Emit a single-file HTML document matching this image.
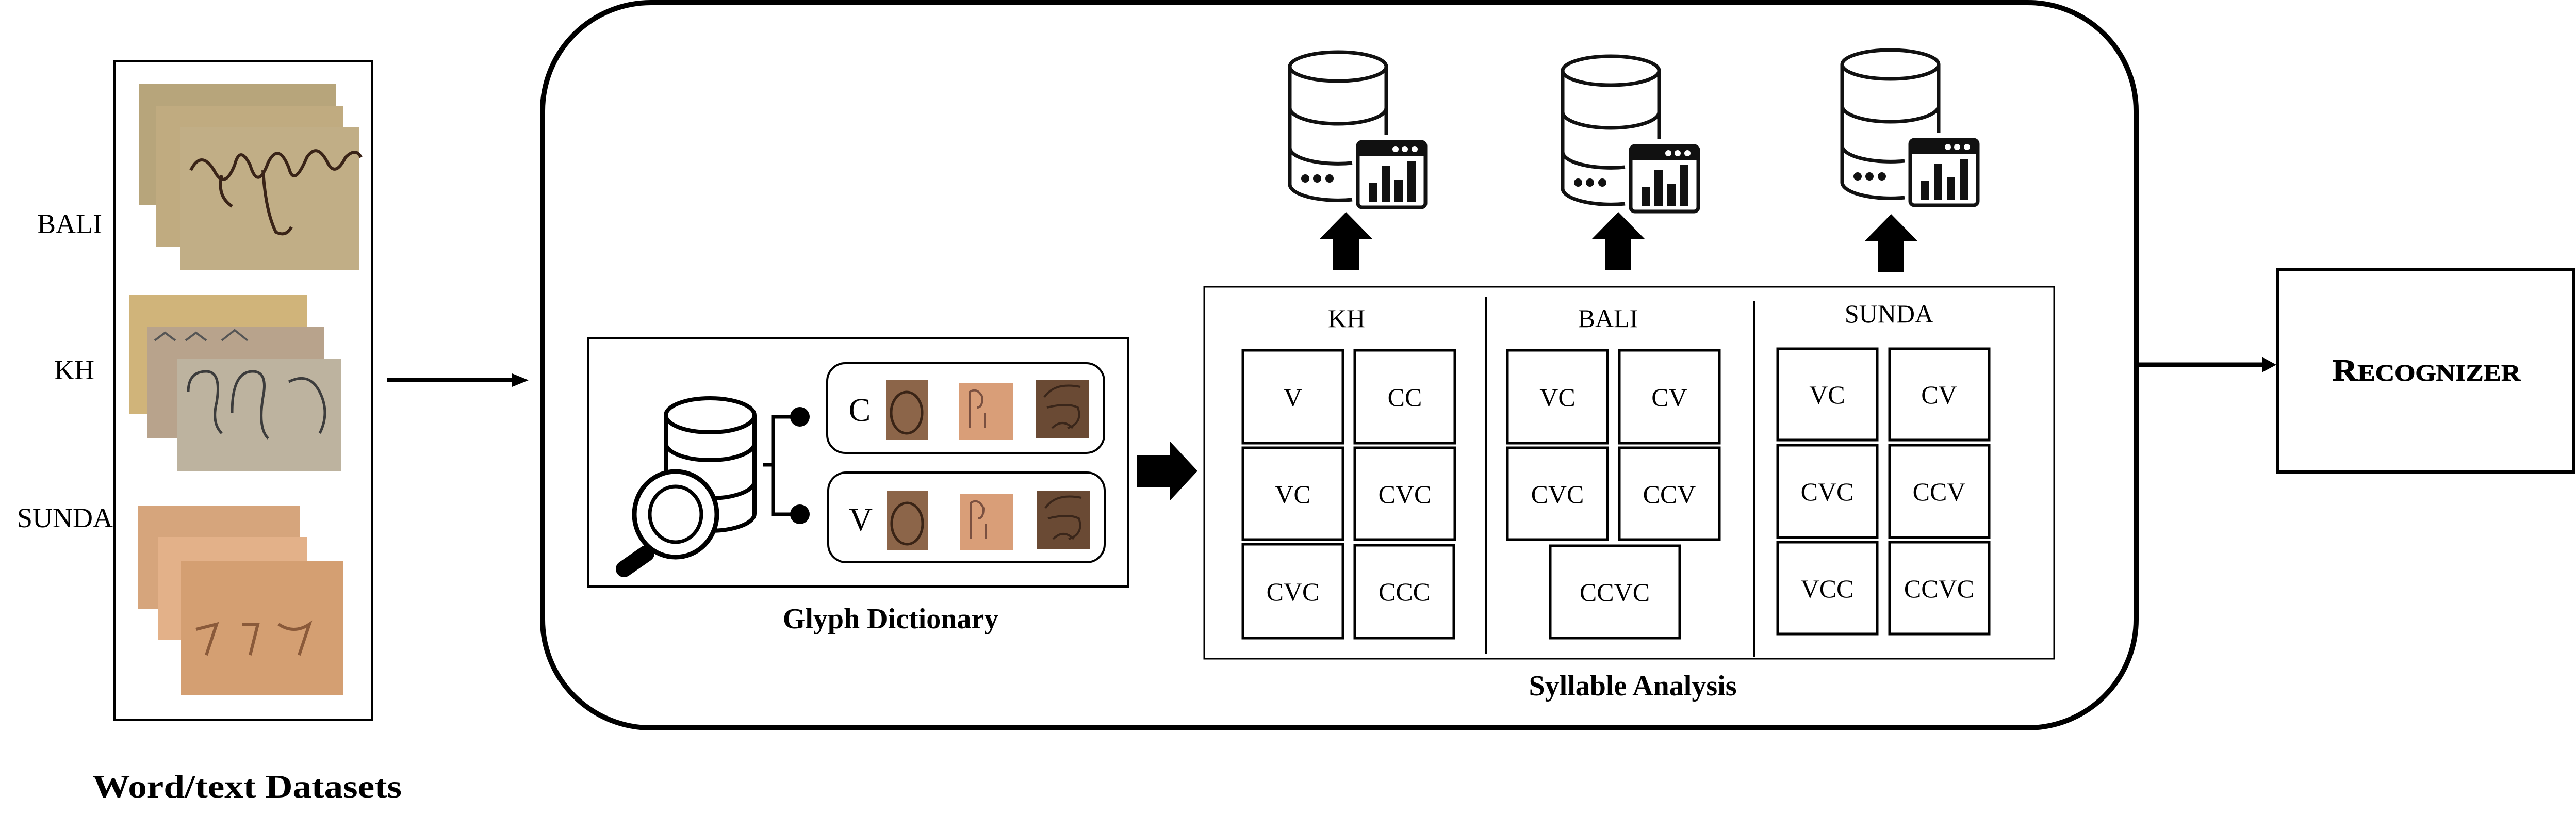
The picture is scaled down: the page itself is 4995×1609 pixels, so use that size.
<!DOCTYPE html>
<html><head><meta charset="utf-8"><style>
html,body{margin:0;padding:0;background:#fff;}
svg{display:block;}
text{font-family:"Liberation Serif",serif;}
</style></head><body>
<svg width="4995" height="1609" viewBox="0 0 4995 1609" xmlns="http://www.w3.org/2000/svg">
<defs>
<symbol id="db" overflow="visible">
  <g fill="none" stroke="#111" stroke-width="7">
    <path d="M3,31 V259 A93.5,31 0 0 0 124,289"/>
    <path d="M190,31 V164"/>
    <ellipse cx="96.5" cy="31" rx="93.5" ry="28"/>
    <path d="M3,111 A93.5,31 0 0 0 190,111"/>
    <path d="M3,188 A93.5,31 0 0 0 124,218"/>
    <rect x="135" y="177" width="131" height="127" rx="8"/>
  </g>
  <rect x="135" y="177" width="131" height="27" fill="#111"/>
  <circle cx="208" cy="191" r="6" fill="#fff"/><circle cx="226" cy="191" r="6" fill="#fff"/><circle cx="245" cy="191" r="6" fill="#fff"/>
  <circle cx="33" cy="248" r="8" fill="#111"/><circle cx="56" cy="248" r="8" fill="#111"/><circle cx="80" cy="248" r="8" fill="#111"/>
  <rect x="156" y="256" width="16" height="38" fill="#111"/>
  <rect x="181" y="224" width="16" height="70" fill="#111"/>
  <rect x="206" y="250" width="16" height="44" fill="#111"/>
  <rect x="231" y="214" width="16" height="80" fill="#111"/>
</symbol>
<symbol id="up" overflow="visible">
  <polygon points="0,0 52,53 25,53 25,113 -25,113 -25,53 -52,53" fill="#000"/>
</symbol>
</defs>

<!-- Left dataset box -->
<rect x="222" y="119" width="500" height="1276" fill="none" stroke="#000" stroke-width="4"/>
<!-- Bali -->
<rect x="270" y="162" width="381" height="235" fill="#b7a57b"/>
<rect x="302" y="205" width="363" height="273" fill="#c0ab80"/>
<rect x="349" y="246" width="348" height="278" fill="#c1ae86"/>
<path d="M370,330 q20,-40 45,0 q20,40 40,-10 q10,-40 30,0 q15,50 35,-5 q20,-40 40,10 q10,40 35,-20 q20,-30 40,10 q15,30 35,-10 q20,-20 30,0 M430,340 q-10,40 20,60 M510,330 q5,80 25,120 q20,10 30,-10" fill="none" stroke="#3a2418" stroke-width="6"/>
<!-- KH -->
<rect x="251" y="571" width="345" height="232" fill="#d0b47a"/>
<rect x="285" y="634" width="344" height="216" fill="#b8a38c"/>
<rect x="343" y="695" width="319" height="218" fill="#bdb39f"/>
<path d="M365,760 q0,-40 35,-40 q30,0 20,60 q-10,40 10,60 M450,800 q0,-80 40,-80 q30,0 20,50 q-10,60 10,80 M560,740 q40,-20 60,20 q20,40 0,80" fill="none" stroke="#3c3c3c" stroke-width="5"/>
<path d="M300,660 l20,-15 l20,15 M360,660 l20,-15 l20,15 M430,660 l25,-20 l25,20" fill="none" stroke="#555" stroke-width="4"/>
<!-- Sunda -->
<rect x="268" y="981" width="314" height="199" fill="#d6a57c"/>
<rect x="307" y="1041" width="288" height="199" fill="#e3b189"/>
<rect x="350" y="1087" width="315" height="261" fill="#d49f72"/>
<path d="M380,1220 l40,-10 l-20,60 M470,1210 l30,0 l-15,60 M540,1210 q30,20 60,0 l-20,60" fill="none" stroke="#8a5a3a" stroke-width="6"/>

<text x="135" y="452" font-size="54" text-anchor="middle">BALI</text>
<text x="144" y="735" font-size="54" text-anchor="middle">KH</text>
<text x="126" y="1022" font-size="54" text-anchor="middle">SUNDA</text>
<text x="479" y="1546" font-size="64" font-weight="bold" text-anchor="middle" textLength="600" lengthAdjust="spacingAndGlyphs">Word/text Datasets</text>

<!-- arrow to main -->
<line x1="750" y1="737" x2="995" y2="737" stroke="#000" stroke-width="8"/>
<polygon points="1025,737 993,724 993,750" fill="#000"/>

<!-- big rounded box -->
<rect x="1052" y="5" width="3090" height="1406" rx="210" ry="210" fill="none" stroke="#000" stroke-width="10"/>

<!-- Glyph dictionary -->
<rect x="1140" y="655" width="1048" height="482" fill="none" stroke="#000" stroke-width="4"/>
<g fill="#fff" stroke="#000" stroke-width="8">
  <path d="M1291,805 V996 A86,33 0 0 0 1463,996 V805" />
  <ellipse cx="1377" cy="805" rx="86" ry="33"/>
  <path d="M1291,859 A86,33 0 0 0 1463,859" fill="none"/>
  <path d="M1291,933 A86,33 0 0 0 1463,933" fill="none"/>
</g>
<line x1="1253" y1="1073" x2="1210" y2="1103" stroke="#000" stroke-width="32" stroke-linecap="round"/>
<ellipse cx="1310" cy="997" rx="80" ry="83" fill="#fff" stroke="#000" stroke-width="9"/>
<ellipse cx="1310" cy="997" rx="50" ry="54" fill="#fff" stroke="#000" stroke-width="7"/>
<path d="M1551,808 H1499 V997 H1551 M1479,901 H1499" fill="none" stroke="#000" stroke-width="7"/>
<circle cx="1551" cy="808" r="19" fill="#000"/>
<circle cx="1551" cy="997" r="19" fill="#000"/>

<rect x="1604" y="704" width="537" height="174" rx="35" fill="none" stroke="#000" stroke-width="4"/>
<rect x="1606" y="916" width="536" height="174" rx="35" fill="none" stroke="#000" stroke-width="4"/>
<text x="1667" y="816" font-size="64" text-anchor="middle">C</text>
<text x="1669" y="1028" font-size="64" text-anchor="middle">V</text>
<g>
  <rect x="1718" y="737" width="81" height="115" fill="#8c6549"/>
  <ellipse cx="1758" cy="800" rx="30" ry="40" fill="none" stroke="#3a2416" stroke-width="5"/>
  <rect x="1860" y="742" width="104" height="110" fill="#d99e78"/>
  <path d="M1880,830 V760 q15,-10 25,10 q0,20 -10,20 M1910,800 v30" fill="none" stroke="#7a5040" stroke-width="4"/>
  <rect x="2008" y="737" width="104" height="113" fill="#6a4a34"/>
  <path d="M2025,770 q20,-30 70,-20 M2030,790 q40,-10 60,0 q10,30 -20,40 M2040,830 q20,-20 40,0" fill="none" stroke="#3a261a" stroke-width="4"/>
</g>
<g>
  <rect x="1719" y="952" width="81" height="115" fill="#8c6549"/>
  <ellipse cx="1759" cy="1015" rx="30" ry="40" fill="none" stroke="#3a2416" stroke-width="5"/>
  <rect x="1862" y="957" width="103" height="110" fill="#d99e78"/>
  <path d="M1882,1045 V975 q15,-10 25,10 q0,20 -10,20 M1912,1015 v30" fill="none" stroke="#7a5040" stroke-width="4"/>
  <rect x="2010" y="952" width="103" height="113" fill="#6a4a34"/>
  <path d="M2027,985 q20,-30 70,-20 M2032,1005 q40,-10 60,0 q10,30 -20,40 M2042,1045 q20,-20 40,0" fill="none" stroke="#3a261a" stroke-width="4"/>
</g>
<text x="1727" y="1218" font-size="56" font-weight="bold" text-anchor="middle">Glyph Dictionary</text>

<!-- big block arrow -->
<polygon points="2204,882 2268,882 2268,855 2322,913 2268,971 2268,944 2204,944" fill="#000"/>

<!-- DB icons -->
<use href="#db" x="2498" y="98"/>
<use href="#db" x="3027" y="106"/>
<use href="#db" x="3569" y="94"/>
<use href="#up" x="2610" y="411"/>
<use href="#up" x="3138" y="411"/>
<use href="#up" x="3667" y="415"/>

<!-- Syllable analysis -->
<rect x="2335" y="556" width="1648" height="721" fill="none" stroke="#000" stroke-width="3"/>
<line x1="2881" y1="576" x2="2881" y2="1268" stroke="#000" stroke-width="4"/>
<line x1="3402" y1="583" x2="3402" y2="1274" stroke="#000" stroke-width="4"/>
<text x="2611" y="634" font-size="50" text-anchor="middle">KH</text>
<text x="3118" y="634" font-size="50" text-anchor="middle">BALI</text>
<text x="3663" y="625" font-size="50" text-anchor="middle">SUNDA</text>
<g fill="none" stroke="#000" stroke-width="5">
  <rect x="2410" y="679" width="194" height="180"/><rect x="2627" y="679" width="194" height="180"/>
  <rect x="2410" y="868" width="194" height="178"/><rect x="2627" y="868" width="194" height="178"/>
  <rect x="2410" y="1055" width="194" height="182"/><rect x="2627" y="1057" width="192" height="180"/>
  <rect x="2923" y="679" width="194" height="180"/><rect x="3140" y="679" width="194" height="180"/>
  <rect x="2923" y="868" width="194" height="178"/><rect x="3140" y="868" width="194" height="178"/>
  <rect x="3006" y="1058" width="251" height="179"/>
  <rect x="3447" y="676" width="193" height="177"/><rect x="3664" y="676" width="193" height="177"/>
  <rect x="3447" y="863" width="193" height="179"/><rect x="3664" y="863" width="193" height="179"/>
  <rect x="3447" y="1051" width="193" height="178"/><rect x="3664" y="1051" width="193" height="178"/>
</g>
<g font-size="50" text-anchor="middle">
  <text x="2507" y="787">V</text><text x="2724" y="787">CC</text>
  <text x="2507" y="975">VC</text><text x="2724" y="975">CVC</text>
  <text x="2507" y="1164">CVC</text><text x="2723" y="1164">CCC</text>
  <text x="3020" y="787">VC</text><text x="3237" y="787">CV</text>
  <text x="3020" y="975">CVC</text><text x="3237" y="975">CCV</text>
  <text x="3131" y="1165">CCVC</text>
  <text x="3543" y="782">VC</text><text x="3760" y="782">CV</text>
  <text x="3543" y="970">CVC</text><text x="3760" y="970">CCV</text>
  <text x="3543" y="1158">VCC</text><text x="3760" y="1158">CCVC</text>
</g>
<text x="3166" y="1348" font-size="56" font-weight="bold" text-anchor="middle">Syllable Analysis</text>

<!-- to recognizer -->
<line x1="4142" y1="707" x2="4390" y2="707" stroke="#000" stroke-width="9"/>
<polygon points="4414,707 4386,692 4386,722" fill="#000"/>
<rect x="4416" y="523" width="574" height="392" fill="none" stroke="#000" stroke-width="6"/>
<text x="4705" y="738" font-size="60" font-weight="bold" text-anchor="middle" font-family="DejaVu Serif Condensed, Liberation Serif, serif" textLength="365" lengthAdjust="spacingAndGlyphs" stroke="#000" stroke-width="1">R<tspan font-size="46">ECOGNIZER</tspan></text>
</svg>
</body></html>
